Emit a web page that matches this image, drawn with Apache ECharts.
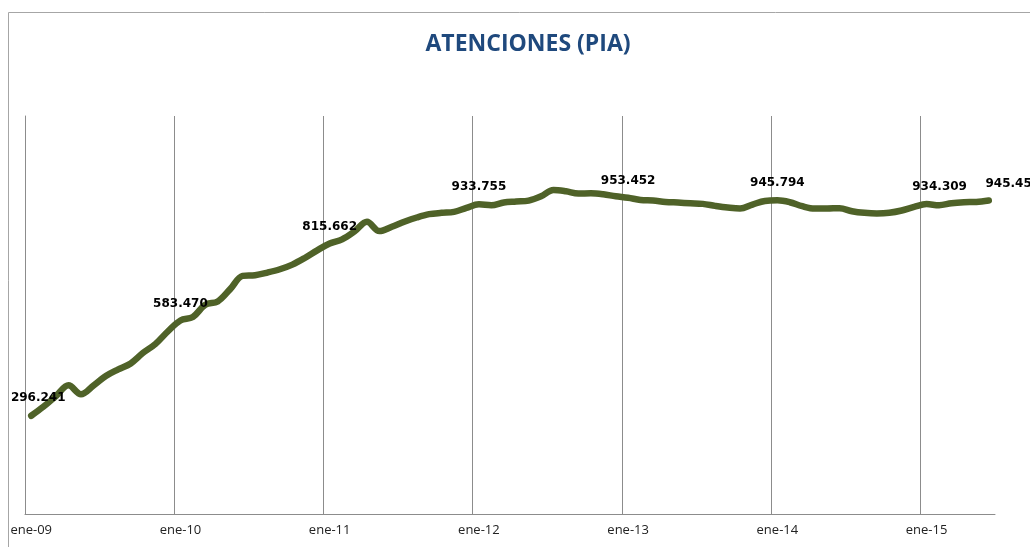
<!DOCTYPE html>
<html>
<head>
<meta charset="utf-8">
<script src="https://cdn.jsdelivr.net/npm/echarts@6/dist/echarts.min.js"></script>
<style>
  html, body { margin: 0; padding: 0; background: #fff; }
  #chart { width: 1030px; height: 547px; }
</style>
</head>
<body>
<div id="chart"></div>
<script>
// meses y años del eje
const monthNames = ["ene", "feb", "mar", "abr", "may", "jun", "jul", "ago", "sep", "oct", "nov", "dic"];
const years = ["09", "10", "11", "12", "13", "14", "15"];
const lastMonthIndex = 5; // jun-15

// atenciones mensuales (ene-09 .. jun-15)
const atenciones = [
  296241, 324000, 356000, 388000, 361000, 387000, 416000, 436000, 454000, 486000, 513000, 551000,
  583470, 594000, 631000, 641000, 678000, 718000, 720000, 728000, 738000, 752000, 772000, 795000,
  815662, 828000, 852000, 881000, 853000, 866000, 881000, 894000, 904000, 908000, 911000, 923000,
  933755, 931000, 939000, 942000, 945000, 958000, 977000, 973000, 966000, 967000, 964000, 958000,
  953452, 947000, 945000, 941000, 939000, 937000, 935000, 929000, 924000, 921000, 933000, 944000,
  945794, 940000, 928000, 921000, 921000, 922000, 913000, 908000, 906000, 908000, 915000, 926000,
  934309, 931000, 937000, 940000, 941000, 945453
];

// puntos con etiqueta
const labeledIdx = [0, 12, 24, 36, 48, 60, 72, 77];

const categories = [];
years.forEach((y, yi) => {
  monthNames.forEach((m, mi) => {
    if (yi === years.length - 1 && mi > lastMonthIndex) return;
    categories.push(m + "-" + y);
  });
});

const fmt = v => String(Math.round(v)).replace(/\B(?=(\d{3})+(?!\d))/g, ".");

// desplazamiento de etiquetas (como en el original)
const labelShift = { 0: [7, -18], 72: [13, -17], 77: [24, -17] };

const seriesData = atenciones.map((v, i) => {
  if (labeledIdx.indexOf(i) < 0) return v;
  return {
    value: v,
    label: {
      show: true,
      position: "inside",
      offset: labelShift[i] || [0, -17],
      formatter: p => fmt(p.value)
    }
  };
});

// una línea vertical por año; la última (borde derecho) no se ve
const gridColors = years.map(() => "#8c8c8c").concat(["rgba(0,0,0,0)"]);

const chart = echarts.init(document.getElementById("chart"));
const option = {
  animation: false,
  backgroundColor: "#fff",
  title: {
    text: "ATENCIONES (PIA)",
    left: 523,
    top: 28,
    textAlign: "center",
    textStyle: {
      fontFamily: "Open Sans",
      fontWeight: "bold",
      fontSize: 23,
      color: "#1F497D"
    }
  },
  graphic: [
    {
      type: "rect",
      shape: { x: 8.5, y: 12.5, width: 1100, height: 600 },
      style: { fill: "none", stroke: "#a6a6a6", lineWidth: 1 },
      silent: true
    }
  ],
  grid: { left: 25, right: 35, top: 116, bottom: 33 },
  xAxis: {
    type: "category",
    data: categories,
    boundaryGap: true,
    axisLine: { lineStyle: { color: "#8c8c8c", width: 1 } },
    axisTick: { show: false, interval: 11 },
    axisLabel: {
      interval: 11,
      margin: 10,
      fontFamily: "Open Sans",
      fontSize: 13,
      color: "#222"
    },
    splitLine: {
      show: true,
      interval: 11,
      lineStyle: { color: gridColors, width: 1 }
    }
  },
  yAxis: {
    type: "value",
    min: 0,
    max: 1200000,
    axisLine: { show: true, lineStyle: { color: "#8c8c8c", width: 1 } },
    axisTick: { show: false },
    axisLabel: { show: false },
    splitLine: { show: false }
  },
  series: [
    {
      name: "Atenciones",
      type: "line",
      data: seriesData,
      smooth: 0.35,
      symbol: "circle",
      symbolSize: 0.1,
      showSymbol: true,
      itemStyle: { color: "rgba(0,0,0,0)" },
      lineStyle: { color: "#4F6228", width: 6.5, cap: "round", join: "round" },
      label: {
        show: false,
        fontFamily: "DejaVu Sans",
        fontWeight: "bold",
        fontSize: 12,
        color: "#000"
      },
      emphasis: { disabled: true }
    }
  ]
};
chart.setOption(option);
</script>
</body>
</html>
